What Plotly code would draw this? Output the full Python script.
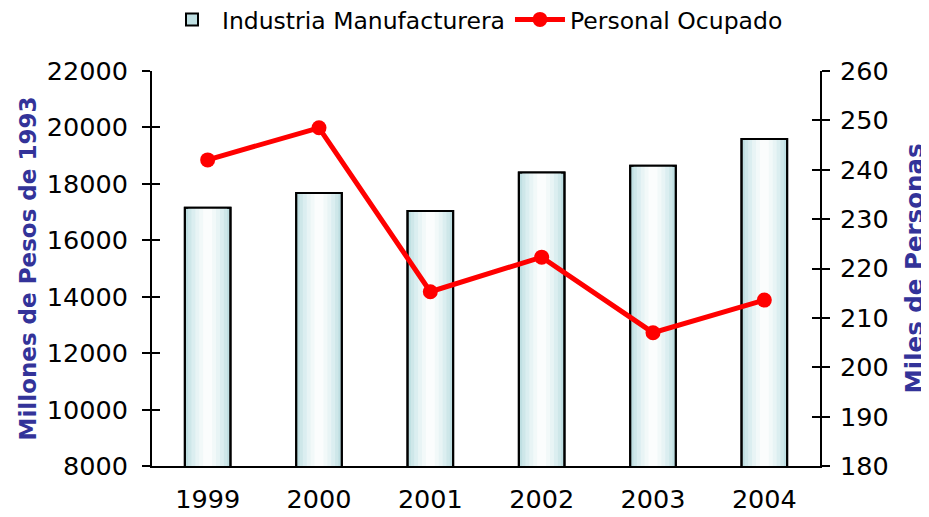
import plotly.graph_objects as go

years = ["1999", "2000", "2001", "2002", "2003", "2004"]
industria = [17150, 17680, 17040, 18400, 18640, 19590]
personal = [242.0, 248.5, 215.3, 222.3, 207.0, 213.6]
left_ticks = [8000, 10000, 12000, 14000, 16000, 18000, 20000, 22000]
right_ticks = [180, 190, 200, 210, 220, 230, 240, 250, 260]

FONT = "DejaVu Sans"
TITLE_COLOR = "#333399"
BAR_W = 0.41
TICK_SIZE = 25.5

fig = go.Figure()

# gradient-like fill made from stacked overlay bars of decreasing width
layers = [
    (BAR_W, "#bfdfe2"),
    (0.35, "#cee7e9"),
    (0.29, "#dbeef0"),
    (0.22, "#e8f4f5"),
    (0.15, "#f2f9f9"),
    (0.08, "#fbfdfd"),
]
for i, (w, c) in enumerate(layers):
    fig.add_trace(go.Bar(
        x=years, y=industria, width=w,
        marker=dict(color=c, line=dict(color="black", width=2 if i == 0 else 0)),
        name="Industria Manufacturera", showlegend=(i == 0),
        hoverinfo="skip" if i else None, yaxis="y",
    ))
# outline on top
fig.add_trace(go.Bar(
    x=years, y=industria, width=BAR_W,
    marker=dict(color="rgba(0,0,0,0)", line=dict(color="black", width=2)),
    showlegend=False, hoverinfo="skip", yaxis="y",
))

fig.add_trace(go.Scatter(
    x=years, y=personal, mode="lines+markers", name="Personal Ocupado",
    line=dict(color="#ff0000", width=5), marker=dict(color="#ff0000", size=15),
    yaxis="y2",
))

axis_common = dict(
    showgrid=False, zeroline=False, showline=True, linecolor="black", linewidth=2,
    ticklen=8, tickwidth=2, tickcolor="black", automargin=False,
)

fig.update_layout(
    width=921, height=509,
    margin=dict(l=144, r=109, t=63, b=51, autoexpand=False),
    paper_bgcolor="white", plot_bgcolor="white",
    barmode="overlay",
    font=dict(family=FONT, color="black"),
    xaxis=dict(
        showgrid=False, zeroline=False, showline=True, linecolor="black", linewidth=2,
        ticks="", tickfont=dict(family=FONT, size=TICK_SIZE, color="black"),
        range=[-0.5, 5.5], automargin=False, ticklabelstandoff=9,
    ),
    yaxis=dict(
        **axis_common, ticks="outside", range=[8000, 22000],
        tickvals=left_ticks, ticktext=[str(v) for v in left_ticks],
        tickfont=dict(family=FONT, size=TICK_SIZE, color="black"),
        ticklabelstandoff=9,
        title=dict(text="<b>Millones de Pesos de 1993</b>",
                   font=dict(family=FONT, size=23, color=TITLE_COLOR), standoff=4),
    ),
    yaxis2=dict(
        **axis_common, ticks="outside", range=[180, 260], overlaying="y", side="right",
        tickvals=right_ticks,
        tickfont=dict(family=FONT, size=TICK_SIZE, color="black"),
        ticklabelstandoff=5,
        title=dict(text="<b>Miles de Personas</b>",
                   font=dict(family=FONT, size=24.5, color=TITLE_COLOR), standoff=18),
    ),
    yaxis3=dict(
        **axis_common, ticks="inside", range=[8000, 22000], tickvals=left_ticks,
        showticklabels=False, overlaying="y", side="left",
    ),
    yaxis4=dict(
        **axis_common, ticks="inside", range=[180, 260], tickvals=right_ticks,
        showticklabels=False, overlaying="y", side="right",
    ),
    legend=dict(
        orientation="h", x=0.4835, xanchor="center",
        y=1.13, yanchor="middle",
        font=dict(family=FONT, size=23.5, color="black"),
        tracegroupgap=0, itemwidth=50,
    ),
)

# invisible traces so the extra tick axes render
fig.add_trace(go.Scatter(x=years, y=industria, yaxis="y3", mode="none",
                         showlegend=False, hoverinfo="skip"))
fig.add_trace(go.Scatter(x=years, y=personal, yaxis="y4", mode="none",
                         showlegend=False, hoverinfo="skip"))

fig.write_html("out.html")
